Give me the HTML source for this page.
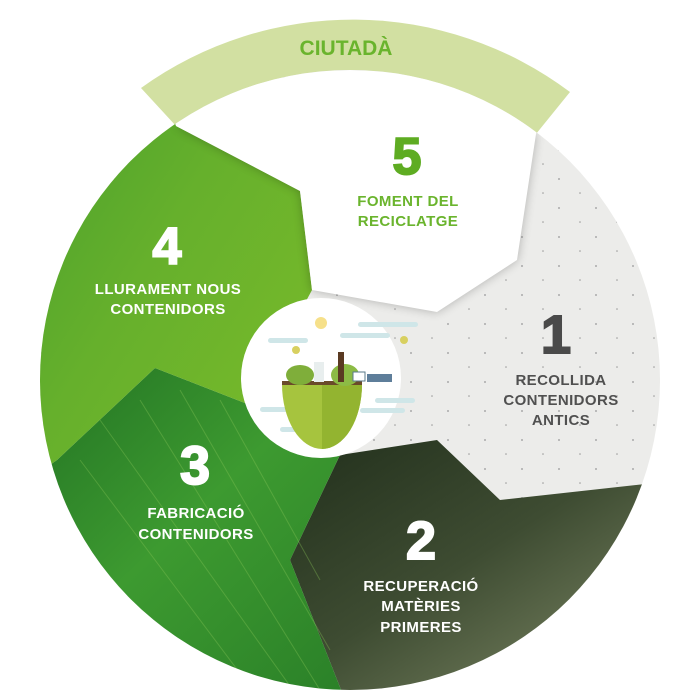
<!DOCTYPE html>
<html><head><meta charset="utf-8"><style>
html,body{margin:0;padding:0;background:#fff;}
svg{display:block}
text{font-family:"Liberation Sans",sans-serif;font-weight:bold;text-anchor:middle}
.l{font-size:15px;letter-spacing:0.4px}
</style></head><body>
<svg width="700" height="700" viewBox="0 0 700 700" xmlns="http://www.w3.org/2000/svg">
<defs>
<clipPath id="c"><circle cx="350" cy="380" r="310"/></clipPath>
<linearGradient id="g4" x1="0" y1="0" x2="1" y2="1"><stop offset="0" stop-color="#3f9a2a"/><stop offset="0.5" stop-color="#66b02c"/><stop offset="1" stop-color="#7cbc2a"/></linearGradient>
<linearGradient id="g3" x1="0" y1="0" x2="1" y2="1"><stop offset="0" stop-color="#1f6e22"/><stop offset="0.5" stop-color="#3d9a30"/><stop offset="1" stop-color="#2a8028"/></linearGradient>
<linearGradient id="g2" x1="0" y1="0" x2="1" y2="1"><stop offset="0" stop-color="#22301c"/><stop offset="0.45" stop-color="#3e4c32"/><stop offset="1" stop-color="#8a9470"/></linearGradient>
<filter id="sh" x="-20%" y="-20%" width="140%" height="140%"><feGaussianBlur stdDeviation="5"/></filter>
<pattern id="sp" width="37" height="29" patternUnits="userSpaceOnUse"><circle cx="4" cy="5" r="1" fill="#aaa"/><circle cx="25" cy="19" r="0.8" fill="#999"/></pattern>
</defs>
<path d="M141,88 A362,362 0 0 1 570,92 L536,134 A310,310 0 0 0 176,126 Z" fill="#d2e0a2"/>
<text x="346" y="55" font-size="21" fill="#6ab42d">CIUTADÀ</text>
<g clip-path="url(#c)">
<rect x="0" y="0" width="700" height="700" fill="#ececea"/>
<rect x="0" y="0" width="700" height="700" fill="url(#sp)"/>
<polygon points="437,440 500,500 700,478 700,700 345,700 290,560 340,455" fill="url(#g2)"/>
<polygon points="0,500 57,460 155,368 250,405 340,455 290,560 345,700 0,700" fill="url(#g3)"/>
<g stroke="#8cc85a" stroke-width="1" opacity="0.35">
<line x1="100" y1="420" x2="300" y2="700"/><line x1="140" y1="400" x2="320" y2="690"/><line x1="180" y1="390" x2="330" y2="650"/><line x1="80" y1="460" x2="260" y2="700"/><line x1="220" y1="400" x2="320" y2="580"/>
</g>
<polygon points="0,0 176,0 176,126 300,191 312,290 250,405 155,368 57,460 0,500" fill="url(#g4)"/>
<polygon points="176,126 300,191 312,290 437,312 517,260 536,134 350,60" fill="#000" opacity="0.25" filter="url(#sh)"/>
<polygon points="150,60 176,126 300,191 312,290 437,312 517,260 536,134 560,60" fill="#fff"/>
</g>
<circle cx="321" cy="378" r="80" fill="#fff"/>
<g>
<circle cx="321" cy="323" r="6" fill="#f6e08a"/>
<g fill="#cfe6e8"><rect x="268" y="338" width="40" height="5" rx="2.5"/><rect x="358" y="322" width="60" height="5" rx="2.5"/><rect x="340" y="333" width="50" height="5" rx="2.5"/><rect x="360" y="408" width="45" height="5" rx="2.5"/><rect x="375" y="398" width="40" height="5" rx="2.5"/><rect x="260" y="407" width="30" height="5" rx="2.5"/><rect x="280" y="427" width="30" height="5" rx="2.5"/></g>
<path d="M282,384 L362,384 A40,65 0 0 1 282,384 Z" fill="#a6c43e"/>
<path d="M322,384 L362,384 A40,65 0 0 1 322,449 Z" fill="#93b430"/>
<rect x="282" y="381" width="80" height="4" fill="#6a4a2a"/>
<ellipse cx="300" cy="375" rx="14" ry="10" fill="#7fae3a"/>
<ellipse cx="345" cy="375" rx="14" ry="11" fill="#8cbb45"/>
<rect x="314" y="362" width="10" height="20" fill="#e8eeee"/>
<rect x="338" y="352" width="6" height="30" fill="#5a3a22"/>
<rect x="353" y="372" width="12" height="9" fill="#fff" stroke="#5a7a8a" stroke-width="1"/>
<rect x="367" y="374" width="25" height="8" fill="#5e7e9a"/>
<circle cx="296" cy="350" r="4" fill="#d8d060"/><circle cx="404" cy="340" r="4" fill="#d8d060"/>
</g>
<text x="407" y="174" font-size="52" fill="#5eac22" stroke="#5eac22" stroke-width="2">5</text>
<text x="408" y="206" class="l" fill="#6ab42d">FOMENT DEL</text>
<text x="408" y="226" class="l" fill="#6ab42d">RECICLATGE</text>
<text x="167" y="264" font-size="52" fill="#fff" stroke="#fff" stroke-width="2">4</text>
<text x="168" y="294" class="l" fill="#fff">LLURAMENT NOUS</text>
<text x="168" y="314" class="l" fill="#fff">CONTENIDORS</text>
<text x="556" y="353" font-size="54" fill="#4a4a4a" stroke="#4a4a4a" stroke-width="2">1</text>
<text x="561" y="385" class="l" fill="#505050">RECOLLIDA</text>
<text x="561" y="405" class="l" fill="#505050">CONTENIDORS</text>
<text x="561" y="425" class="l" fill="#505050">ANTICS</text>
<text x="195" y="484" font-size="54" fill="#fff" stroke="#fff" stroke-width="2">3</text>
<text x="196" y="518" class="l" fill="#fff">FABRICACIÓ</text>
<text x="196" y="539" class="l" fill="#fff">CONTENIDORS</text>
<text x="421" y="559" font-size="54" fill="#fff" stroke="#fff" stroke-width="2">2</text>
<text x="421" y="591" class="l" fill="#fff">RECUPERACIÓ</text>
<text x="421" y="611" class="l" fill="#fff">MATÈRIES</text>
<text x="421" y="632" class="l" fill="#fff">PRIMERES</text>
</svg>
</body></html>
